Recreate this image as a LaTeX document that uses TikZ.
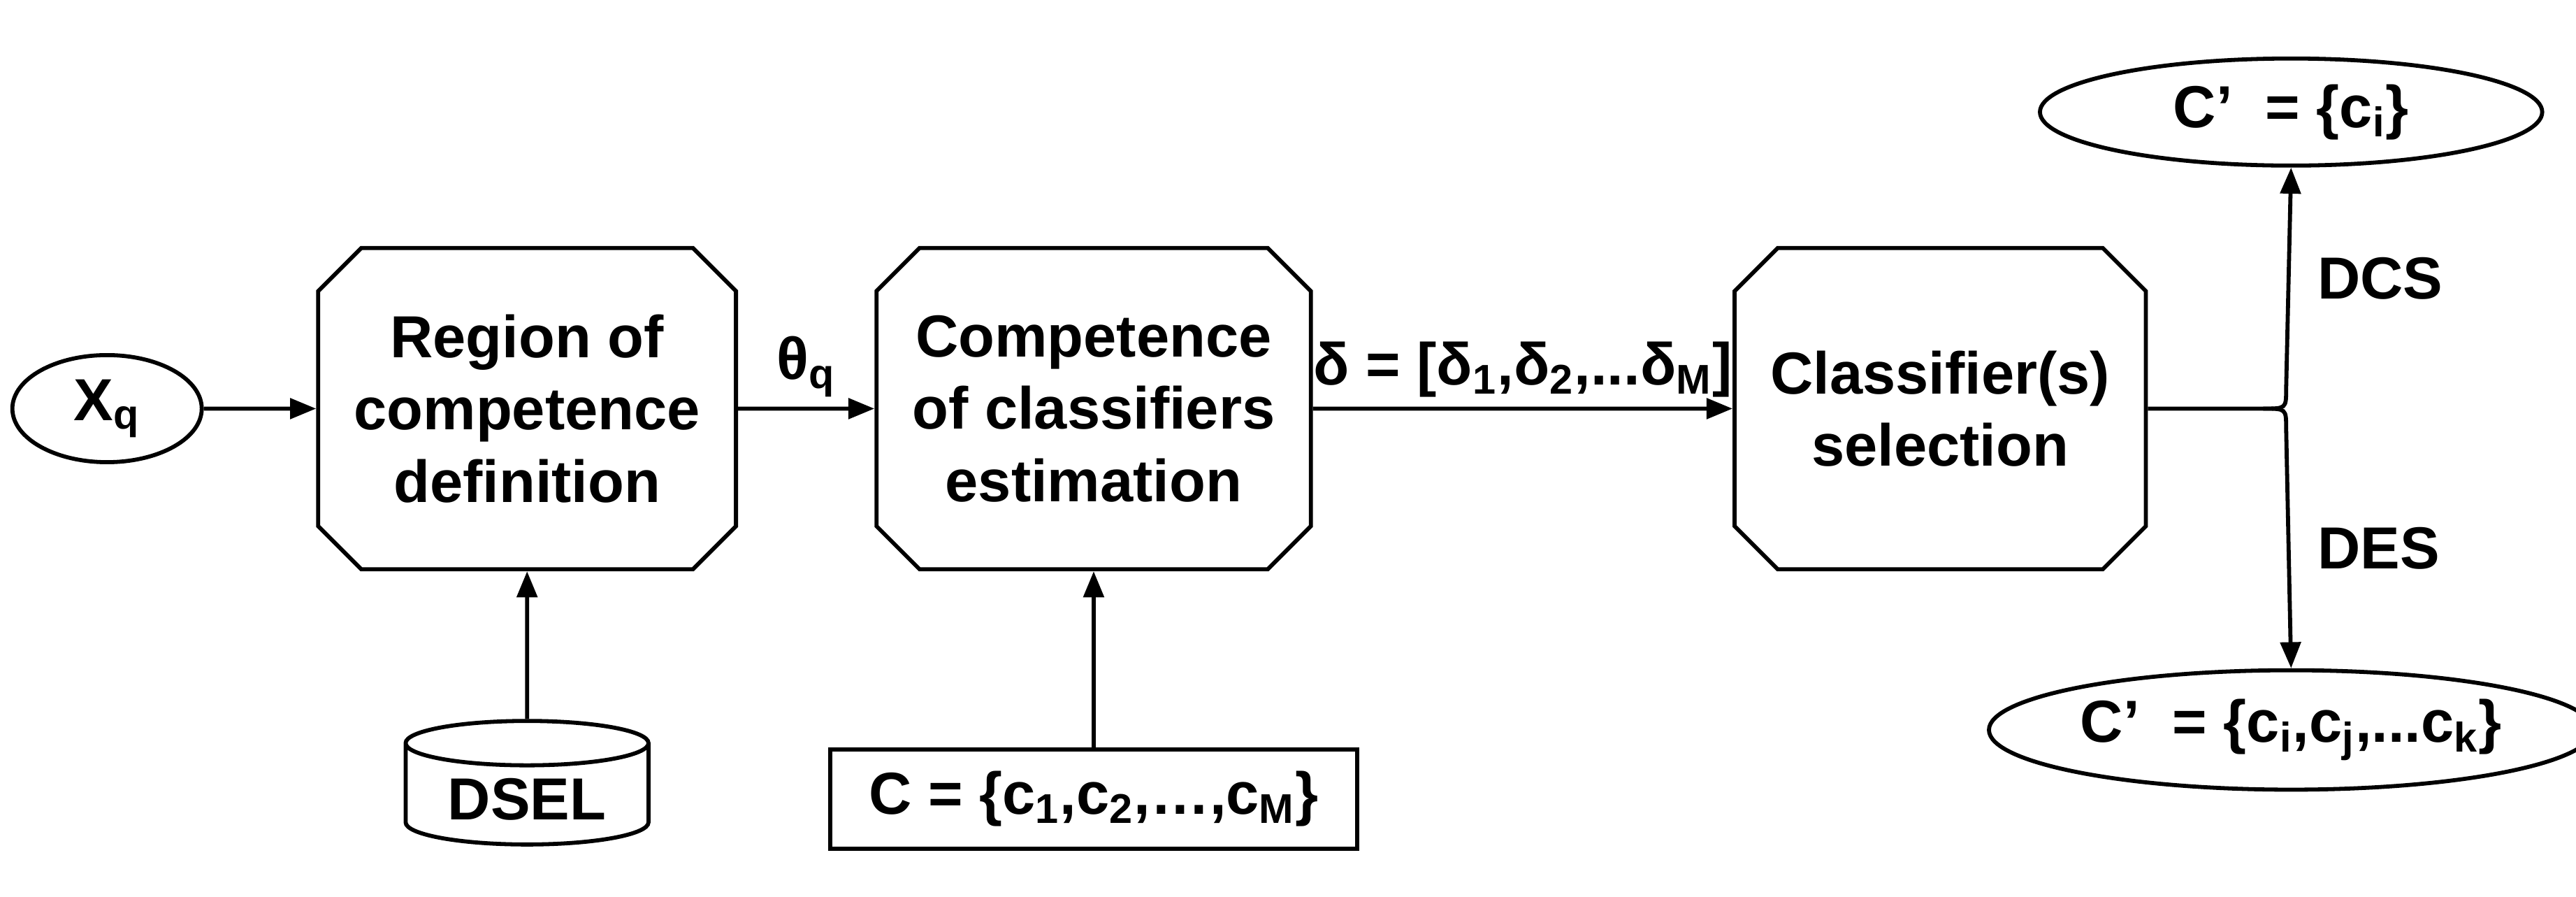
\documentclass[tikz,border=0pt]{standalone}
\usepackage{fontspec}
\setmainfont{Liberation Sans}
\usetikzlibrary{shapes.misc,shapes.geometric,arrows.meta}
\newcommand{\sbs}[1]{\textsubscript{#1}}
\begin{document}
\begin{tikzpicture}[x=0.02cm,y=-0.02cm,line width=1.4pt,
  font=\bfseries\fontsize{20.5}{25}\selectfont,
  >={Triangle[length=9pt,width=7pt]},
  stage/.style={chamfered rectangle,chamfered rectangle xsep=0.4cm,draw,align=center,
    minimum width=4.9cm,minimum height=3.9cm,inner sep=1pt},
  oval/.style={ellipse,draw,inner sep=1pt}]
  \useasboundingbox (0,0) rectangle (1564,544);
  % input and stages
  \node[oval,minimum width=2.3cm,minimum height=1.3cm] (xq) at (65,248) {X\sbs{q}};
  \node[stage] (roc) at (320,248) {Region of\\competence\\definition};
  \node[stage] (comp) at (664,248) {Competence\\of classifiers\\estimation};
  \node[stage,minimum width=4.6cm] (sel) at (1178,248) {Classifier(s)\\selection};
  % data sources
  \node[cylinder,shape border rotate=90,draw,aspect=0.25,minimum width=2.95cm,
    minimum height=1.5cm] (dsel) at (320,485) {DSEL};
  \node[draw,minimum width=6.4cm,minimum height=1.2cm] (pool) at (664,485)
    {C = \{c\sbs{1},c\sbs{2},…,c\sbs{M}\}};
  % outputs
  \node[oval,minimum width=6.1cm,minimum height=1.3cm] (dcs) at (1391,68) {C'\ \ = \{c\sbs{i}\}};
  \node[oval,minimum width=6.35cm,minimum height=1.45cm] (des) at (1391,443)
    {C'\ \ = \{c\sbs{i},c\sbs{j},...c\sbs{k}\}};
  % connectors
  \draw[->] (xq) -- (roc);
  \draw[->] (roc) -- node[above] {θ\sbs{q}} (comp);
  \draw[->] (comp) -- node[above] {δ = [δ\sbs{1},δ\sbs{2},...δ\sbs{M}]} (sel);
  \draw[->] (dsel) -- (roc);
  \draw[->] (pool) -- (comp);
  \draw (sel.east) -- (1374,248) .. controls (1388,248) .. (1388,236);
  \draw (1374,248) .. controls (1388,248) .. (1388,260);
  \draw[->] (1388,236) -- (dcs.south) node[pos=0.5,right=6pt] {DCS};
  \draw[->] (1388,260) -- (des.north) node[pos=0.5,right=6pt] {DES};
\end{tikzpicture}
\end{document}
